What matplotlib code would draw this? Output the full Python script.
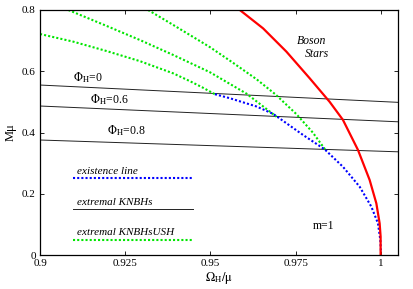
import matplotlib
matplotlib.use("Agg")
import matplotlib.pyplot as plt
from matplotlib.ticker import FuncFormatter

plt.rcParams['font.family'] = ['Liberation Serif', 'DejaVu Serif']
plt.rcParams['mathtext.fontset'] = 'stix'

# boson stars
bs_w = [0.9586, 0.96543, 0.97227, 0.9791, 0.98496, 0.98886, 0.99326, 0.99668, 0.99864, 0.99961, 0.9999, 0.9999]
bs_M = [0.8, 0.740, 0.664, 0.577, 0.500, 0.441, 0.343, 0.245, 0.169, 0.1035, 0.06, 0.0]

# existence line
ex_w = [0.9513, 0.95566, 0.96349, 0.96836, 0.97714, 0.9835, 0.98886, 0.99375, 0.99717, 0.99912, 0.99981, 1.0]
ex_M = [0.525, 0.512, 0.485, 0.461, 0.392, 0.345, 0.288, 0.223, 0.158, 0.1035, 0.049, 0.011]

# extremal KNBHs with scalar hair (three branches)
ush1_w = [0.9, 0.90977, 0.91953, 0.9293, 0.9391, 0.9439, 0.9475, 0.9513]
ush1_M = [0.7216, 0.6966, 0.666, 0.633, 0.593, 0.568, 0.548, 0.525]
ush2_w = [0.9083, 0.91953, 0.9293, 0.9391, 0.9498, 0.96055, 0.96935]
ush2_M = [0.8, 0.748, 0.702, 0.653, 0.597, 0.527, 0.4517]
ush3_w = [0.9317, 0.9391, 0.9498, 0.9563, 0.9635, 0.969, 0.9752, 0.98, 0.9838]
ush3_M = [0.8, 0.751, 0.679, 0.630, 0.574, 0.525, 0.460, 0.400, 0.342]

# extremal Kerr-Newman lines (Phi_H = 0, 0.6, 0.8)
kn_w = [0.9, 1.005]
kn_M = {"0": [0.555, 0.4985], "0.6": [0.4865, 0.435], "0.8": [0.3755, 0.337]}

fig = plt.figure(figsize=(4.13, 2.89), dpi=100)
ax = fig.add_axes([0.0969, 0.1176, 0.8668, 0.8478])

for k in kn_M:
    ax.plot(kn_w, kn_M[k], color='#222222', lw=0.7)

dot = (0, (1, 1))
green = '#00e600'
ax.plot(ush1_w, ush1_M, color=green, lw=1.5, ls=dot)
ax.plot(ush2_w, ush2_M, color=green, lw=1.5, ls=dot)
ax.plot(ush3_w, ush3_M, color=green, lw=1.5, ls=dot)
ax.plot(ex_w, ex_M, color='#0000ff', lw=1.5, ls=dot)
ax.plot(bs_w, bs_M, color='#ff0000', lw=1.6)

# hand-made legend
leg_x = [0.9098, 0.9448]
ax.text(0.9108, 0.272, 'existence line', style='italic', fontsize=8, va='center')
ax.plot(leg_x, [0.2505, 0.2505], color='#0000ff', lw=1.5, ls=dot)
ax.text(0.9108, 0.173, 'extremal KNBHs', style='italic', fontsize=8, va='center')
ax.plot(leg_x, [0.149, 0.149], color='#222222', lw=0.7)
ax.text(0.9108, 0.075, 'extremal KNBHsUSH', style='italic', fontsize=8, va='center')
ax.plot(leg_x, [0.05, 0.05], color=green, lw=1.5, ls=dot)

ax.text(0.9097, 0.578, r'$\Phi_{\rm H}$=0', fontsize=8.5, va='center')
ax.text(0.9148, 0.508, r'$\Phi_{\rm H}$=0.6', fontsize=8.5, va='center')
ax.text(0.9197, 0.405, r'$\Phi_{\rm H}$=0.8', fontsize=8.5, va='center')
ax.text(0.9797, 0.70, 'Boson', style='italic', fontsize=8.5, ha='center', va='center')
ax.text(0.9812, 0.655, 'Stars', style='italic', fontsize=8.5, ha='center', va='center')
ax.text(0.9832, 0.095, 'm=1', fontsize=8.5, ha='center', va='center')

ax.set_xlim(0.9, 1.005)
ax.set_ylim(0, 0.8)
ax.set_xticks([0.9, 0.925, 0.95, 0.975, 1.0])
ax.set_yticks([0, 0.2, 0.4, 0.6, 0.8])
fmt = FuncFormatter(lambda v, p: '%g' % round(v, 4))
ax.xaxis.set_major_formatter(fmt)
ax.yaxis.set_major_formatter(fmt)
ax.tick_params(direction='in', top=True, right=True, length=3, width=0.6, labelsize=8, pad=3)
for s in ax.spines.values():
    s.set_linewidth(0.9)
ax.set_xlabel(r'$\Omega_{\rm H}/\mathrm{\mu}$', fontsize=9, labelpad=1)
ax.set_ylabel('Mμ', fontsize=9, labelpad=4)

fig.savefig('out.png', dpi=100)
